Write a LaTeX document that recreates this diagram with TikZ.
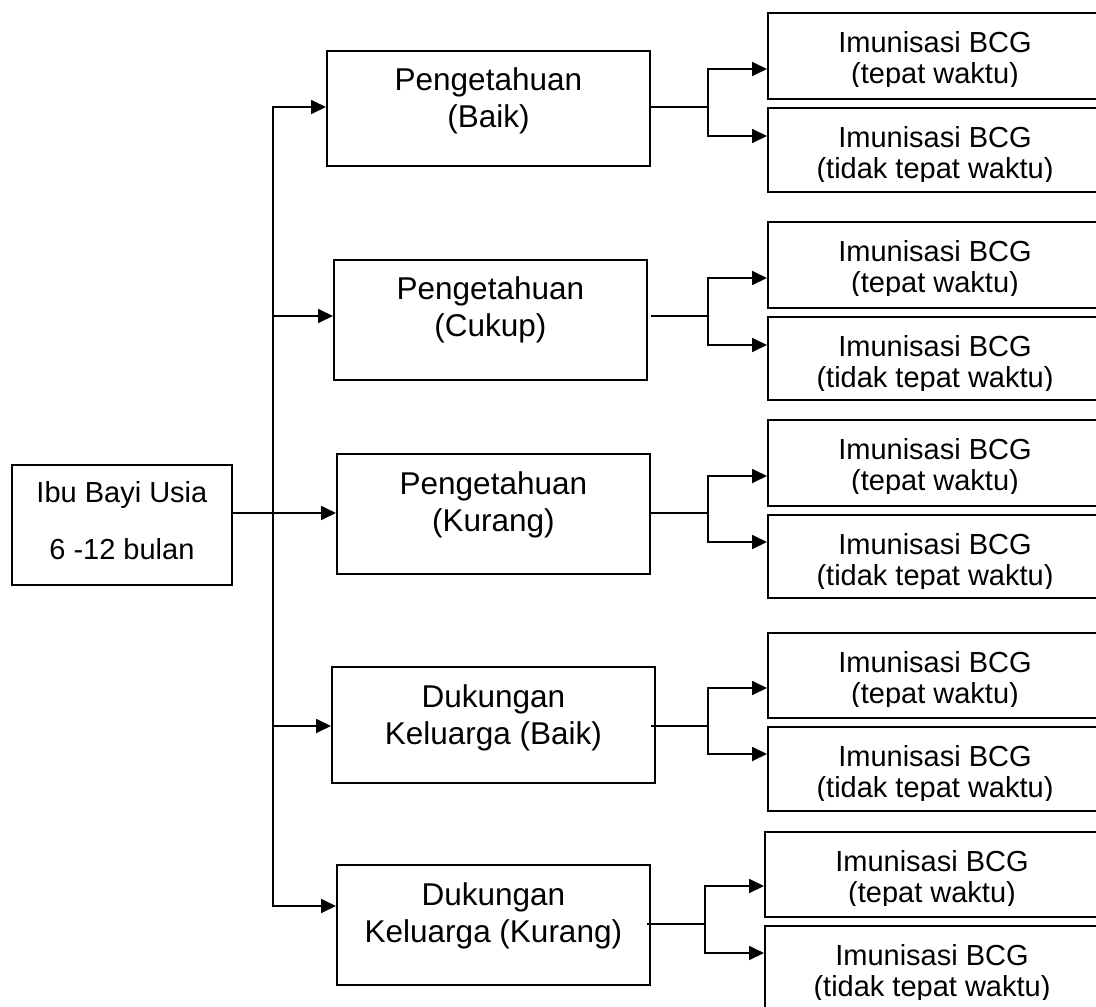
\documentclass[tikz,border=0pt]{standalone}
\usepackage{fontspec}
\setmainfont{Liberation Sans}
\usetikzlibrary{arrows.meta}
\tikzset{
  box/.style={draw=black, line width=1.8pt, anchor=north west, inner sep=0pt, fill=white},
  ln/.style={line width=1.8pt},
  tip/.tip={Triangle[length=15pt,width=14pt]},
  arr/.style={ln, -tip},
  arr2/.style={ln, tip-tip},
  mtxt/.style={anchor=base, inner sep=0pt, font=\fontsize{31.5}{37}\selectfont},
  rtxt/.style={anchor=base, inner sep=0pt, font=\fontsize{29}{32}\selectfont},
  ltxt/.style={anchor=base, inner sep=0pt, font=\fontsize{29}{32}\selectfont}
}
% #1 id, #2 box x, #3 top of upper box, #4 top of lower box, #5 bottom of lower box,
% #6 upper arrow y, #7 lower arrow y, #8 branch x, #9 branch y
\newcommand{\rgrp}[9]{%
  \node[box, minimum width=340pt, minimum height={(#4-9-#3)*1pt}] (R#1a) at (#2,#3) {};
  \node[box, minimum width=340pt, minimum height={(#5-#4)*1pt}] (R#1b) at (#2,#4) {};
  \begin{scope}
    \clip (#2,#3) rectangle (1120,#3+74);
    \node[rtxt] (R#1a1) at (#2+168,#3+40) {Imunisasi BCG};
    \node[rtxt] (R#1a2) at (#2+168,#3+71) {(tepat waktu)};
  \end{scope}
  \begin{scope}
    \clip (#2,#4) rectangle (1120,#4+74);
    \node[rtxt] (R#1b1) at (#2+168,#4+40) {Imunisasi BCG};
    \node[rtxt] (R#1b2) at (#2+168,#4+71) {(tidak tepat waktu)};
  \end{scope}
  \coordinate (B#1) at (#8,#9);
  \draw[arr2] (R#1a.west |- 0,#6) -- (B#1 |- 0,#6) -- (B#1 |- 0,#7) -- (R#1b.west |- 0,#7);
}
\begin{document}
\begin{tikzpicture}[x=1pt,y=-1pt]
\useasboundingbox (0,0) rectangle (1096,1007);
\clip (0,0) rectangle (1096,1007);

% left box
\node[box, minimum width=220pt, minimum height=120pt] (L) at (11,464) {};
\node[ltxt] (L1) at (L.north |- 0,502) {Ibu Bayi Usia};
\node[ltxt] (L2) at (L.north |- 0,559) {6 -12 bulan};

% middle boxes
\node[box, minimum width=323pt, minimum height=115pt] (P1) at (326,50) {};
\node[mtxt] (P1a) at (P1.north |- 0,90) {Pengetahuan};
\node[mtxt] (P1b) at (P1.north |- 0,127) {(Baik)};

\node[box, minimum width=313pt, minimum height=120pt] (P2) at (333,259) {};
\node[mtxt] (P2a) at (P2.north |- 0,299) {Pengetahuan};
\node[mtxt] (P2b) at (P2.north |- 0,336) {(Cukup)};

\node[box, minimum width=313pt, minimum height=120pt] (P3) at (336,453) {};
\node[mtxt] (P3a) at (P3.north |- 0,494) {Pengetahuan};
\node[mtxt] (P3b) at (P3.north |- 0,531) {(Kurang)};

\node[box, minimum width=323pt, minimum height=116pt] (D1) at (331,666) {};
\node[mtxt] (D1a) at (D1.north |- 0,707) {Dukungan};
\node[mtxt] (D1b) at (D1.north |- 0,744) {Keluarga (Baik)};

\node[box, minimum width=313pt, minimum height=120pt] (D2) at (336,864) {};
\node[mtxt] (D2a) at (D2.north |- 0,905) {Dukungan};
\node[mtxt] (D2b) at (D2.north |- 0,942) {Keluarga (Kurang)};

% trunk
\coordinate (T1) at (273,107);
\coordinate (T5) at (273,906);
\draw[arr2] (P1.west |- T1) -- (T1) -- (T5) -- (D2.west |- T5);
\draw[arr] (T1 |- 0,316) -- (P2.west |- 0,316);
\draw[arr] (T1 |- 0,726) -- (D1.west |- 0,726);
\draw[arr] (L.east |- 0,513) -- (P3.west |- 0,513);

% right groups
\rgrp{1}{767}{12}{107}{191}{69}{136}{708}{107}
\rgrp{2}{767}{221}{316}{399}{278}{345}{708}{316}
\rgrp{3}{767}{419}{514}{597}{476}{542}{708}{513}
\rgrp{4}{767}{632}{726}{810}{688}{754}{708}{726}
\rgrp{5}{764}{831}{925}{1015}{886}{953}{705}{924}

% links from middle boxes to branches
\draw[ln] (P1.east |- B1) -- (B1);
\draw[ln] ([xshift=3pt]P2.east |- B2) -- (B2);
\draw[ln] (P3.east |- B3) -- (B3);
\draw[ln] ([xshift=-5pt]D1.east |- B4) -- (B4);
\draw[ln] ([xshift=-4pt]D2.east |- B5) -- (B5);
\end{tikzpicture}
\end{document}
